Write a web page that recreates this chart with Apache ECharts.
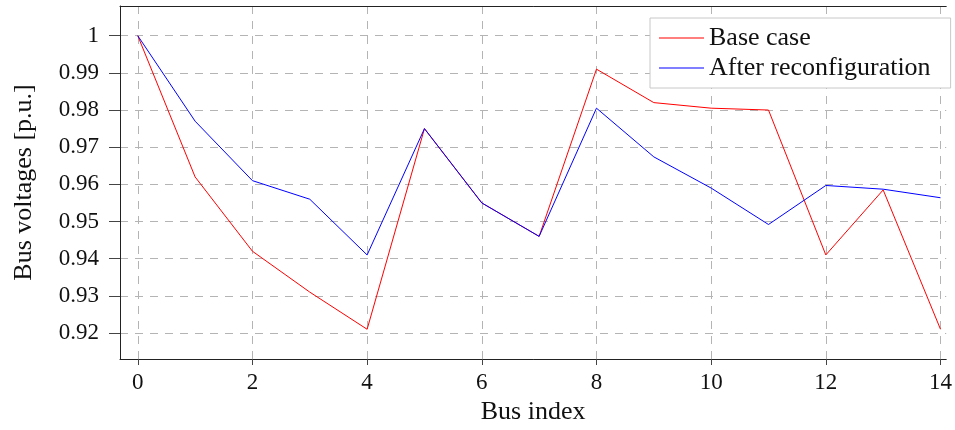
<!DOCTYPE html>
<html>
<head>
<meta charset="utf-8">
<script src="https://cdn.jsdelivr.net/npm/echarts@6/dist/echarts.min.js"></script>
<style>
html,body{margin:0;padding:0;background:#fff;}
#chart{width:955px;height:430px;}
</style>
</head>
<body>
<div id="chart"></div>
<script>
const busIndex = [0, 1, 2, 3, 4, 5, 6, 7, 8, 9, 10, 11, 12, 13, 14];
const baseCase = [1.000, 0.962, 0.942, 0.931, 0.921, 0.975, 0.955, 0.946, 0.991, 0.982, 0.9805, 0.980, 0.941, 0.9585, 0.921];
const afterReconfiguration = [1.000, 0.977, 0.961, 0.956, 0.941, 0.975, 0.955, 0.946, 0.9805, 0.9674, 0.959, 0.9492, 0.9597, 0.9587, 0.9564];
const xTicks = [0, 2, 4, 6, 8, 10, 12, 14];
const yTicks = [0.92, 0.93, 0.94, 0.95, 0.96, 0.97, 0.98, 0.99, 1.0];
const seriesNames = ['Base case', 'After reconfiguration'];

const FONT = 'Liberation Serif';
const chart = echarts.init(document.getElementById('chart'), null, {renderer: 'canvas'});
const gridLine = {show: true, lineStyle: {color: '#b4b4b4', width: 1, type: [8, 7]}};

chart.setOption({
  animation: false,
  backgroundColor: '#fff',
  grid: {left: 120, top: 6, right: 0, bottom: 70, containLabel: false},
  legend: {
    orient: 'vertical',
    left: 650, top: 18,
    padding: [7, 20, 7, 9],
    itemGap: 4,
    itemWidth: 45, itemHeight: 1,
    icon: 'rect',
    borderColor: '#c8c8c8', borderWidth: 1,
    backgroundColor: '#fff',
    textStyle: {fontFamily: FONT, fontSize: 26, color: '#111'},
    data: seriesNames
  },
  xAxis: [{
    type: 'value', min: -0.31, max: 14.1,
    name: 'Bus index', nameLocation: 'middle', nameGap: 40,
    nameTextStyle: {fontFamily: FONT, fontSize: 26, color: '#111'},
    axisLine: {show: true, onZero: false, lineStyle: {color: '#222', width: 1}},
    axisTick: {show: true, length: 6, customValues: xTicks, lineStyle: {color: '#444'}},
    axisLabel: {customValues: xTicks, margin: 12, fontFamily: FONT, fontSize: 23, color: '#111'},
    splitLine: gridLine
  }, {
    type: 'value', min: -0.31, max: 14.1, position: 'top',
    axisLine: {show: true, onZero: false, lineStyle: {color: '#222', width: 1}},
    axisTick: {show: false}, axisLabel: {show: false}, splitLine: {show: false}
  }],
  yAxis: {
    type: 'value', min: 0.913, max: 1.008,
    name: 'Bus voltages [p.u.]', nameLocation: 'middle', nameGap: 83,
    nameTextStyle: {fontFamily: FONT, fontSize: 26, color: '#111'},
    axisLine: {show: true, onZero: false, lineStyle: {color: '#222', width: 1}},
    axisTick: {show: true, length: 11, customValues: yTicks, lineStyle: {color: '#444'}},
    axisLabel: {
      customValues: yTicks, margin: 21, fontFamily: FONT, fontSize: 23, color: '#111',
      formatter: v => (Math.abs(v - 1) < 1e-9 ? '1' : v.toFixed(2))
    },
    splitLine: gridLine
  },
  series: [{
    name: seriesNames[0], type: 'line', xAxisIndex: 0,
    data: busIndex.map((x, i) => [x, baseCase[i]]),
    symbol: 'none', lineStyle: {color: '#ff0000', width: 1}, itemStyle: {color: '#ff0000'}
  }, {
    name: seriesNames[1], type: 'line', xAxisIndex: 0,
    data: busIndex.map((x, i) => [x, afterReconfiguration[i]]),
    symbol: 'none', lineStyle: {color: '#0000ff', width: 1}, itemStyle: {color: '#0000ff'}
  }]
});
</script>
</body>
</html>
